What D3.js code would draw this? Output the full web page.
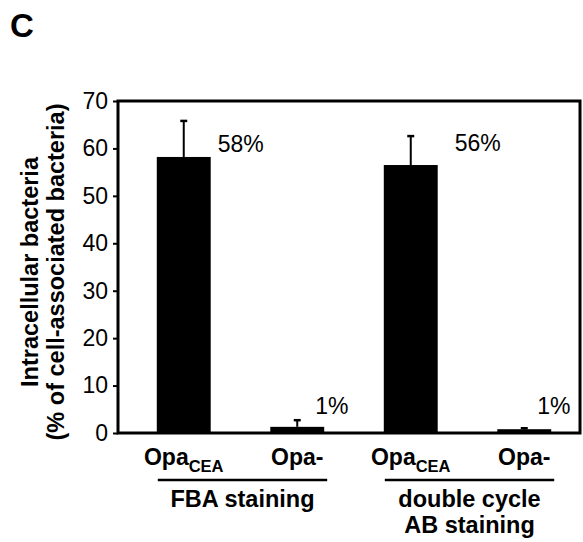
<!DOCTYPE html>
<html>
<head>
<meta charset="utf-8">
<script src="https://cdn.jsdelivr.net/npm/d3@7"></script>
<style>
  body { margin: 0; background: #fff; }
  svg { display: block; font-family: "Liberation Sans", Arial, sans-serif; }
</style>
</head>
<body>
<div id="chart"></div>
<script>
// data
const categories = ["OpaCEA FBA", "Opa- FBA", "OpaCEA AB", "Opa- AB"];
const values = [58.2, 1.3, 56.5, 0.8];
const errors = [7.6, 1.4, 6.1, 0.2];
const pctLabels = ["58%", "1%", "56%", "1%"];
const tickValues = [0, 10, 20, 30, 40, 50, 60, 70];
const groups = [
  { name: ["FBA staining"], from: 0, to: 1 },
  { name: ["double cycle", "AB staining"], from: 2, to: 3 }
];

const W = 583, H = 542;
const plot = { left: 118, right: 580, top: 101, bottom: 433 };

const svg = d3.select('#chart')
  .append('svg')
  .attr('width', W)
  .attr('height', H);

let x = d3.scaleBand()
  .domain(categories)
  .range([127, 581])
  .paddingInner(0.525)
  .paddingOuter(0.2625);

let y = d3.scaleLinear()
  .domain([0, 70])
  .range([plot.bottom, plot.top]);

// panel letter
svg.append('text')
  .attr('x', 10).attr('y', 37)
  .style('font-size', '33px').style('font-weight', 'bold')
  .text('C');

// bars
svg.append('g').selectAll('rect')
  .data(values)
  .enter()
  .append('rect')
  .attr('x', (d, i) => x(categories[i]))
  .attr('y', d => y(d))
  .attr('width', x.bandwidth())
  .attr('height', d => y(0) - y(d))
  .attr('fill', '#000');

// error bars (upper only)
const eb = svg.append('g').attr('stroke', '#000').attr('stroke-width', 2);
values.forEach((v, i) => {
  const cx = x(categories[i]) + x.bandwidth() / 2;
  eb.append('line')
    .attr('x1', cx).attr('x2', cx)
    .attr('y1', y(v)).attr('y2', y(v + errors[i]));
  eb.append('line')
    .attr('x1', cx - 3.5).attr('x2', cx + 3.5)
    .attr('y1', y(v + errors[i])).attr('y2', y(v + errors[i]))
    .attr('stroke-width', 2.5);
});

// percentage labels, offsets from the bar centre
const labelDx = [34, 18, 44, 13];
const labelBase = [152, 414, 151, 414];
svg.append('g').selectAll('text')
  .data(pctLabels)
  .enter()
  .append('text')
  .attr('x', (d, i) => x(categories[i]) + x.bandwidth() / 2 + labelDx[i])
  .attr('y', (d, i) => labelBase[i])
  .style('font-size', '23px')
  .text(d => d);

// y axis
const yAxis = svg.append('g')
  .attr('transform', `translate(${plot.left},0)`)
  .call(d3.axisLeft(y).tickValues(tickValues).tickSize(5).tickPadding(5));
yAxis.select('.domain').remove();
yAxis.selectAll('line').attr('stroke-width', 2);
yAxis.selectAll('text').style('font-size', '23px').style('font-family', '"Liberation Sans", Arial, sans-serif');

// frame
svg.append('rect')
  .attr('x', plot.left).attr('y', plot.top)
  .attr('width', plot.right - plot.left)
  .attr('height', plot.bottom - plot.top)
  .attr('fill', 'none')
  .attr('stroke', '#000')
  .attr('stroke-width', 3);

// y title
const yt = svg.append('text')
  .attr('transform', 'translate(0,272) rotate(-90)')
  .attr('text-anchor', 'middle')
  .style('font-size', '23.5px').style('font-weight', 'bold');
yt.append('tspan').attr('x', 0).attr('y', 38).text('Intracellular bacteria');
yt.append('tspan').attr('x', 0).attr('y', 64).text('(% of cell-associated bacteria)');

// category labels
const catLab = svg.append('g').style('font-size', '23px').style('font-weight', 'bold')
  .attr('text-anchor', 'middle');
categories.forEach((c, i) => {
  const cx = x(c) + x.bandwidth() / 2;
  const t = catLab.append('text').attr('x', cx).attr('y', 465);
  if (c.startsWith('OpaCEA')) {
    t.append('tspan').text('Opa');
    t.append('tspan').attr('dy', 7).style('font-size', '16.5px').text('CEA');
  } else {
    t.text('Opa-');
  }
});

// group brackets
groups.forEach(g => {
  const x0 = x(categories[g.from]) + 1;
  const x1 = x(categories[g.to]) + x.bandwidth() + 3;
  svg.append('line')
    .attr('x1', x0).attr('x2', x1)
    .attr('y1', 480).attr('y2', 480)
    .attr('stroke', '#000').attr('stroke-width', 2.5);
  const t = svg.append('text')
    .attr('text-anchor', 'middle')
    .style('font-size', '23.5px').style('font-weight', 'bold');
  g.name.forEach((n, k) => {
    t.append('tspan').attr('x', (x0 + x1) / 2).attr('y', 507 + k * 26).text(n);
  });
});
</script>
</body>
</html>
